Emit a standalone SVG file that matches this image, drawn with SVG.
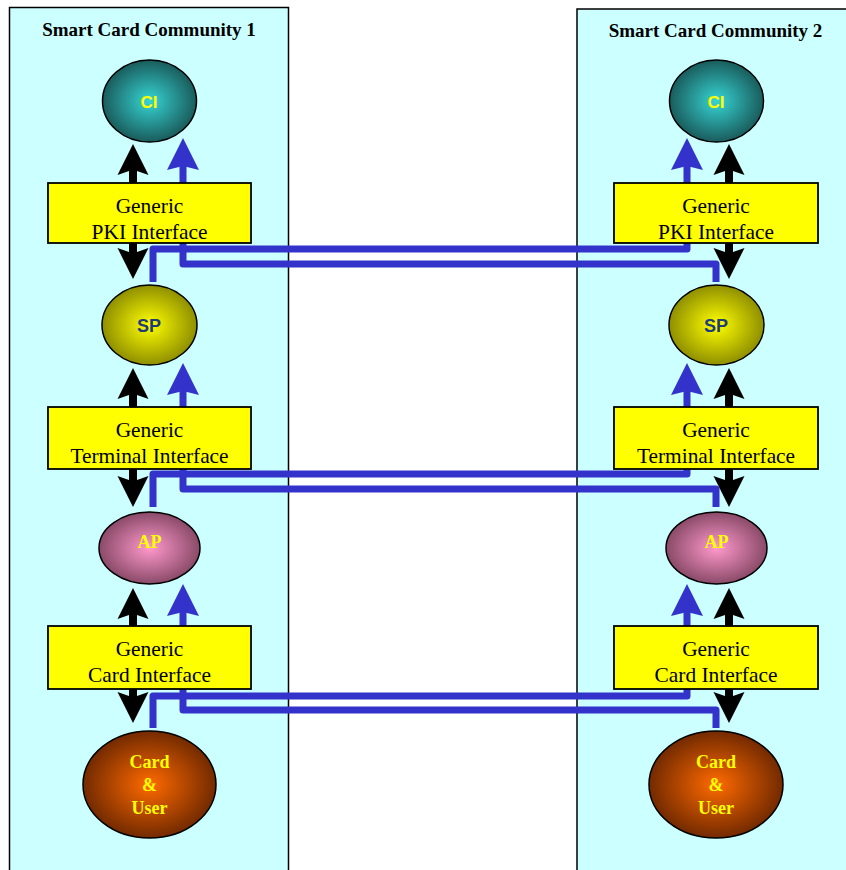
<svg xmlns="http://www.w3.org/2000/svg" width="846" height="870" viewBox="0 0 846 870">
<style>
.panel{fill:#CCFFFF;stroke:#000;stroke-width:1.5}
.title{font-family:"Liberation Serif",serif;font-weight:bold;font-size:19px;fill:#000;text-anchor:middle}
.box{fill:#FFFF00;stroke:#000;stroke-width:1.8}
.btxt{font-family:"Liberation Serif",serif;font-size:21.4px;fill:#000;text-anchor:middle}
.ell{stroke:#000;stroke-width:1.5}
.sans{font-family:"Liberation Sans",sans-serif;font-weight:bold;text-anchor:middle}
.serifb{font-family:"Liberation Serif",serif;font-weight:bold;text-anchor:middle;fill:#FFFF00}
.ba{fill:#000}
.bh{fill:#3333CC}
.bl{fill:none;stroke:#3333CC;stroke-width:7;stroke-linejoin:round}
</style>
<defs>
<radialGradient id="gCI" cx="50%" cy="50%" r="50%">
<stop offset="0" stop-color="#36D4D4"/><stop offset="1" stop-color="#1A5C5C"/>
</radialGradient>
<radialGradient id="gSP" cx="50%" cy="50%" r="50%">
<stop offset="0" stop-color="#FFFF00"/><stop offset="1" stop-color="#8F8F00"/>
</radialGradient>
<radialGradient id="gAP" cx="50%" cy="50%" r="50%">
<stop offset="0" stop-color="#FF99CC"/><stop offset="1" stop-color="#8A4A68"/>
</radialGradient>
<radialGradient id="gCU" cx="50%" cy="50%" r="50%">
<stop offset="0" stop-color="#FF6A00"/><stop offset="1" stop-color="#732A00"/>
</radialGradient>
</defs>

<g id="community1">
<rect class="panel" x="9.5" y="7.5" width="279" height="900"/>
<text class="title" x="149" y="36">Smart Card Community 1</text>
</g>
<g id="community2">
<rect class="panel" x="577" y="9" width="300" height="900"/>
<text class="title" x="715.5" y="37">Smart Card Community 2</text>
</g>

<g id="connectors">
<path class="bl" d="M183,160 V264 H716 V282"/>
<path class="bl" d="M687,160 V249 H153 V282"/>
<path class="bl" d="M183,385 V489 H716 V507"/>
<path class="bl" d="M687,385 V474 H153 V507"/>
<path class="bl" d="M183,606 V710 H716 V728"/>
<path class="bl" d="M687,606 V696 H153 V728"/>
<path class="bh" d="M183,138 L199,170 L183,166 L167,170 Z"/>
<path class="bh" d="M183,363 L199,395 L183,391 L167,395 Z"/>
<path class="bh" d="M183,584 L199,616 L183,612 L167,616 Z"/>
<path class="bh" d="M687,138 L703,170 L687,166 L671,170 Z"/>
<path class="bh" d="M687,363 L703,395 L687,391 L671,395 Z"/>
<path class="bh" d="M687,584 L703,616 L687,612 L671,616 Z"/>
<path class="ba" d="M133,144 L148.5,175 L137,171 V183 H129 V171 L117.5,175 Z"/>
<path class="ba" d="M133,279 L148.5,248 L137,252 V243 H129 V252 L117.5,248 Z"/>
<path class="ba" d="M133,368 L148.5,399 L137,395 V407 H129 V395 L117.5,399 Z"/>
<path class="ba" d="M133,507 L148.5,476 L137,480 V469 H129 V480 L117.5,476 Z"/>
<path class="ba" d="M133,588 L148.5,619 L137,615 V626 H129 V615 L117.5,619 Z"/>
<path class="ba" d="M133,723 L148.5,692 L137,696 V689 H129 V696 L117.5,692 Z"/>
<path class="ba" d="M729,144 L744.5,175 L733,171 V183 H725 V171 L713.5,175 Z"/>
<path class="ba" d="M729,279 L744.5,248 L733,252 V243 H725 V252 L713.5,248 Z"/>
<path class="ba" d="M729,368 L744.5,399 L733,395 V407 H725 V395 L713.5,399 Z"/>
<path class="ba" d="M729,507 L744.5,476 L733,480 V469 H725 V480 L713.5,476 Z"/>
<path class="ba" d="M729,588 L744.5,619 L733,615 V626 H725 V615 L713.5,619 Z"/>
<path class="ba" d="M729,723 L744.5,692 L733,696 V689 H725 V696 L713.5,692 Z"/>
</g>

<g id="ci1"><ellipse class="ell" fill="url(#gCI)" cx="149.5" cy="101" rx="47" ry="41"/><text class="sans" x="149" y="108" font-size="17" fill="#FFFF00">CI</text></g>
<g id="pki1"><rect class="box" x="48" y="183" width="203" height="60"/><text class="btxt" x="149.5" y="213">Generic</text><text class="btxt" x="149.5" y="239">PKI Interface</text></g>
<g id="sp1"><ellipse class="ell" fill="url(#gSP)" cx="149.5" cy="325" rx="47.5" ry="40"/><text class="sans" x="149" y="332" font-size="18" fill="#1F3C78">SP</text></g>
<g id="term1"><rect class="box" x="48" y="407" width="203" height="62"/><text class="btxt" x="149.5" y="437">Generic</text><text class="btxt" x="149.5" y="463">Terminal Interface</text></g>
<g id="ap1"><ellipse class="ell" fill="url(#gAP)" cx="149.5" cy="548" rx="50.5" ry="36"/><text class="serifb" x="149.5" y="548" font-size="18">AP</text></g>
<g id="card1"><rect class="box" x="48" y="626" width="203" height="63"/><text class="btxt" x="149.5" y="656">Generic</text><text class="btxt" x="149.5" y="682">Card Interface</text></g>
<g id="user1"><ellipse class="ell" fill="url(#gCU)" cx="149.5" cy="784.5" rx="66.5" ry="53.5"/><text class="serifb" font-size="18" x="149.5" y="768">Card</text><text class="serifb" font-size="18" x="149.5" y="791">&amp;</text><text class="serifb" font-size="18" x="149.5" y="814">User</text></g>

<g id="ci2"><ellipse class="ell" fill="url(#gCI)" cx="716.5" cy="101" rx="47" ry="41"/><text class="sans" x="716" y="108" font-size="17" fill="#FFFF00">CI</text></g>
<g id="pki2"><rect class="box" x="614" y="183" width="204" height="60"/><text class="btxt" x="716" y="213">Generic</text><text class="btxt" x="716" y="239">PKI Interface</text></g>
<g id="sp2"><ellipse class="ell" fill="url(#gSP)" cx="716.5" cy="325" rx="47.5" ry="40"/><text class="sans" x="716" y="332" font-size="18" fill="#1F3C78">SP</text></g>
<g id="term2"><rect class="box" x="614" y="407" width="204" height="62"/><text class="btxt" x="716" y="437">Generic</text><text class="btxt" x="716" y="463">Terminal Interface</text></g>
<g id="ap2"><ellipse class="ell" fill="url(#gAP)" cx="716.5" cy="548" rx="50.5" ry="36"/><text class="serifb" x="716.5" y="548" font-size="18">AP</text></g>
<g id="card2"><rect class="box" x="614" y="626" width="204" height="63"/><text class="btxt" x="716" y="656">Generic</text><text class="btxt" x="716" y="682">Card Interface</text></g>
<g id="user2"><ellipse class="ell" fill="url(#gCU)" cx="716" cy="784.5" rx="67" ry="53.5"/><text class="serifb" font-size="18" x="716" y="768">Card</text><text class="serifb" font-size="18" x="716" y="791">&amp;</text><text class="serifb" font-size="18" x="716" y="814">User</text></g>
</svg>
